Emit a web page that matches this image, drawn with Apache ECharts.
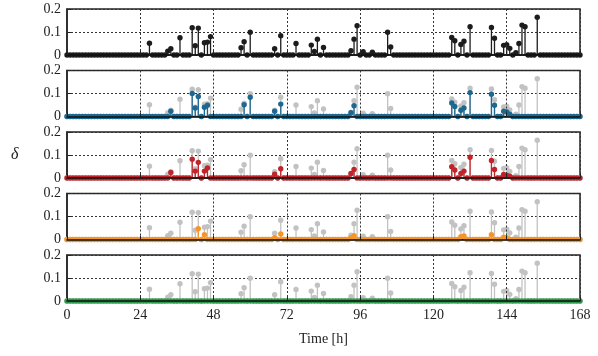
<!DOCTYPE html>
<html><head><meta charset="utf-8">
<script src="https://cdn.jsdelivr.net/npm/echarts/dist/echarts.min.js"></script>
<style>html,body{margin:0;padding:0;background:#fff}#c{width:598px;height:356px}</style>
</head><body><div id="c"></div><script>
// x samples are hourly from 0 to 168 h; every hour not listed below is 0.
const xTickValues = [0, 24, 48, 72, 96, 120, 144, 168];
const yTickValues = [0, 0.1, 0.2];

const blackHours  = [27, 33, 34, 37, 41, 42, 43, 45, 46, 47, 57, 58, 60, 68, 70, 75, 80, 81, 82, 84, 93, 94, 95, 97, 100, 105, 106, 126, 127, 129, 130, 132, 139, 140, 143, 144, 145, 147, 148, 149, 150, 154];
const blackValues = [0.051, 0.017, 0.027, 0.075, 0.119, 0.04, 0.117, 0.053, 0.056, 0.08, 0.032, 0.058, 0.099, 0.027, 0.084, 0.05, 0.043, 0.015, 0.069, 0.033, 0.019, 0.069, 0.127, 0.014, 0.012, 0.099, 0.035, 0.076, 0.062, 0.046, 0.06, 0.123, 0.12, 0.073, 0.042, 0.045, 0.029, 0.01, 0.05, 0.13, 0.123, 0.164];

const blueHours  = [34, 41, 42, 43, 45, 46, 58, 60, 68, 70, 93, 94, 126, 127, 129, 130, 132, 139, 140, 143, 144, 145];
const blueValues = [0.023, 0.1, 0.037, 0.087, 0.04, 0.049, 0.051, 0.084, 0.023, 0.054, 0.016, 0.047, 0.059, 0.044, 0.027, 0.037, 0.104, 0.097, 0.049, 0.023, 0.02, 0.01];

const redHours  = [34, 41, 42, 43, 45, 46, 68, 70, 93, 94, 126, 127, 129, 130, 132, 139, 140, 143, 144, 145];
const redValues = [0.024, 0.082, 0.03, 0.068, 0.03, 0.044, 0.017, 0.04, 0.02, 0.037, 0.049, 0.035, 0.02, 0.03, 0.09, 0.076, 0.037, 0.015, 0.012, 0.008];

const orangeHours  = [43, 45, 68, 70, 93, 94, 129, 130, 139, 143, 144];
const orangeValues = [0.047, 0.021, 0.008, 0.024, 0.008, 0.017, 0.012, 0.015, 0.021, 0.01, 0.008];

const greenHours  = [];
const greenValues = [];

const HOURS = 168;
function expand(hours, values) {
  const arr = [];
  for (let h = 0; h <= HOURS; h++) arr.push([h, 0]);
  hours.forEach((h, i) => { arr[h][1] = values[i]; });
  return arr;
}

const panels = [
  { data: expand(blackHours, blackValues), color: '#1c1c1c' },
  { data: expand(blueHours, blueValues), color: '#1d6891' },
  { data: expand(redHours, redValues), color: '#c1232b' },
  { data: expand(orangeHours, orangeValues), color: '#f4952a' },
  { data: expand(greenHours, greenValues), color: '#2c9a48' }
];
const refData = panels[0].data;
const GRAY = '#c2c2c2';

const tops = [9, 70.5, 132, 193.5, 255];
const H = 46;
const FONT = '"Liberation Serif", "DejaVu Serif", serif';

function stem(color, r) {
  return function (params, api) {
    const x = api.value(0), y = api.value(1);
    const p0 = api.coord([x, 0]);
    const p1 = api.coord([x, y]);
    return {
      type: 'group',
      children: [
        { type: 'line', shape: { x1: p0[0], y1: p0[1], x2: p1[0], y2: p1[1] }, style: { stroke: color, lineWidth: 1.3 } },
        { type: 'circle', shape: { cx: p1[0], cy: p1[1], r: r }, style: { fill: color } }
      ]
    };
  };
}

const grids = [], xAxes = [], yAxes = [], series = [];
panels.forEach((p, i) => {
  grids.push({ left: 67, right: 18, top: tops[i], height: H, show: true, borderColor: '#222', borderWidth: 1.5, backgroundColor: 'transparent' });
  const last = i === panels.length - 1;
  xAxes.push({
    type: 'value', gridIndex: i, min: 0, max: 168, interval: 24,
    axisLine: { show: true, onZero: false, lineStyle: { color: '#111', width: 1.6 } },
    axisTick: { show: true, inside: true, length: 4, lineStyle: { color: '#222' } },
    axisLabel: { show: last, fontFamily: FONT, fontSize: 14, color: '#222', margin: 7 },
    splitLine: { show: true, lineStyle: { type: [2, 2], color: '#333', width: 1 } },
    name: last ? 'Time [h]' : '', nameLocation: 'middle', nameGap: 31,
    nameTextStyle: { fontFamily: FONT, fontSize: 14, color: '#222' },
    z: 10
  });
  yAxes.push({
    type: 'value', gridIndex: i, min: 0, max: 0.2, interval: 0.1,
    axisLine: { show: true, lineStyle: { color: '#222', width: 1.5 } },
    axisTick: { show: true, inside: true, length: 4, lineStyle: { color: '#222' } },
    axisLabel: { fontFamily: FONT, fontSize: 14, color: '#222', margin: 6,
      formatter: v => (v === 0 ? '0' : v.toFixed(1)) },
    splitLine: { show: true, lineStyle: { type: [2, 2], color: '#333', width: 1 } }
  });
  if (i > 0) {
    series.push({ type: 'custom', xAxisIndex: i, yAxisIndex: i, data: refData, renderItem: stem(GRAY, 2.7), clip: false, z: 2, silent: true });
  }
  series.push({ type: 'custom', xAxisIndex: i, yAxisIndex: i, data: p.data, renderItem: stem(p.color, 2.7), clip: false, z: 3, silent: true });
});

const chart = echarts.init(document.getElementById('c'), null, { renderer: 'canvas' });
chart.setOption({
  animation: false,
  backgroundColor: '#fff',
  grid: grids, xAxis: xAxes, yAxis: yAxes, series: series,
  graphic: [{ type: 'text', left: 11, top: 147, style: { text: 'δ', font: 'italic 16px "Liberation Serif", serif', fill: '#222' } }]
});
</script></body></html>
